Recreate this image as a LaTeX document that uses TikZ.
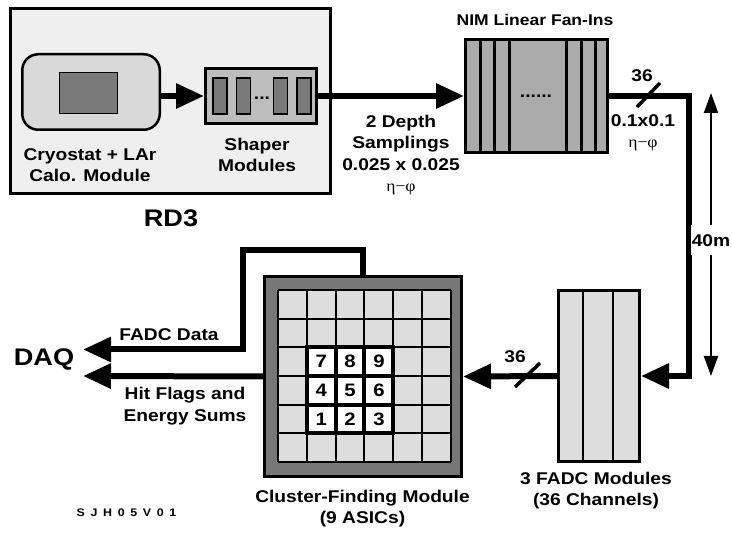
\documentclass[tikz,border=0pt]{standalone}
\usepackage{fontspec}
\setmainfont{Liberation Sans}[FakeStretch=1.13]
\newfontfamily\grkfont{Liberation Serif}[FakeStretch=1.1]
\usetikzlibrary{arrows.meta}
\definecolor{rdfill}{HTML}{EFEFEF}
\definecolor{cryofill}{HTML}{D9D9D9}
\definecolor{darkfill}{HTML}{7A7A7A}
\definecolor{shapfill}{HTML}{BDBDBD}
\definecolor{fanfill}{HTML}{ABABAB}
\definecolor{clusfill}{HTML}{777777}
\definecolor{cellfill}{HTML}{DDDDDD}
\tikzset{
  box/.style={draw,rectangle,line width=3pt,inner sep=0pt},
  lbl/.style={inner sep=0pt,anchor=base,align=center,font=\fontsize{17}{21.5}\selectfont\bfseries},
  biglbl/.style={lbl,font=\fontsize{24}{24}\selectfont\bfseries},
  wire/.style={line width=6pt},
  bigtip/.style={-{Triangle[length=28pt,width=24pt]}},
  slash/.style={line width=3.5pt},
  asic/.style={draw,fill=white,line width=4pt,inner sep=0pt,minimum width=28.83pt,minimum height=28.67pt,font=\fontsize{18}{18}\selectfont\bfseries}
}
\newcommand{\etaphi}{{\grkfont\mdseries\fontsize{16}{21.5}\selectfont η−φ}}
\begin{document}
\begin{tikzpicture}[x=1pt,y=-1pt]
  \useasboundingbox (0,0) rectangle (732,534);
  \node[box,fill=rdfill,minimum width=320pt,minimum height=185pt] (rd3) at (170.5,101) {};
  \node[box,line width=2.5pt,rounded corners=16pt,fill=cryofill,minimum width=137.5pt,minimum height=75.5pt] (cryo) at (91,92) {};
  \node[draw,line width=1pt,fill=darkfill,inner sep=0pt,minimum width=58pt,minimum height=41pt] (calo) at (88,93.5) {};
  \node[box,fill=shapfill,minimum width=111pt,minimum height=55pt] (shaper) at (261,96) {};
  \foreach \x/\n in {220/1,243.5/2,280.5/3,304/4}
    \node[draw,line width=1.5pt,fill=darkfill,inner sep=0pt,minimum width=14pt,minimum height=36pt] (shap\n) at (\x,96) {};
  \node[lbl] (shapdots) at (262,100) {...};
  \node[lbl] (cryolbl) at (90,182) {Cryostat + LAr\\Calo. Module};
  \node[lbl] (shaplbl) at (257,172) {Shaper\\Modules};
  \node[biglbl] (rd3lbl) at (171,227) {RD3};

  \node[box,fill=fanfill,minimum width=142pt,minimum height=113pt] (fanin) at (536.5,96) {};
  \foreach \x in {480,494,509,566,581,595}
    \draw[line width=3pt] (\x,39.5) -- (\x,152.5);
  \node[lbl] (fandots) at (536,98) {......};
  \node[lbl,font=\fontsize{15.5}{18}\selectfont\bfseries] (fanlbl) at (535,26) {NIM Linear Fan-Ins};
  \node[lbl] (depthlbl) at (401,192) {2 Depth\\Samplings\\0.025 x 0.025\\\etaphi};

  \node[box,fill=cellfill,minimum width=81pt,minimum height=171pt] (fadc) at (599,376) {};
  \foreach \x in {583,613}
    \draw[line width=2.5pt] (\x,291.5) -- (\x,460.5);
  \node[lbl] (fadclbl) at (596,506) {3 FADC Modules\\(36 Channels)};

  \node[box,fill=clusfill,minimum width=197pt,minimum height=200pt] (cluster) at (363,376.5) {};
  \fill[cellfill] (278,290) rectangle (451,462);
  \foreach \i in {0,...,6} {
    \draw[line width=2pt] ({278+\i*28.83},290) -- ({278+\i*28.83},462);
    \draw[line width=2pt] (278,{290+\i*28.67}) -- (451,{290+\i*28.67});
  }
  \foreach \n [count=\k from 0] in {7,8,9,4,5,6,1,2,3}
    \node[asic] (asic\n) at ({278+(mod(\k,3)+1.5)*28.83},{290+(int(\k/3)+2.5)*28.67}) {\n};
  \node[lbl] (cluslbl) at (362.5,524) {Cluster-Finding Module\\(9 ASICs)};

  \draw[wire,bigtip] (cryo.east |- shaper.west) -- (shaper.west);
  \draw[wire,bigtip] (shaper.east) -- (fanin.west);
  \coordinate (turn1) at (688.5,96);
  \coordinate (turn2) at (688.5,376);
  \draw[wire,bigtip] (fanin.east) -- (turn1) -- (turn2) -- (fadc.east);
  \draw[slash] (637,107) -- (660,83);
  \node[lbl] (nfan) at (642,82) {36};
  \node[lbl] (granlbl) at (643,148) {0.1x0.1\\\etaphi};

  \coordinate (dimtop) at (711,93);
  \coordinate (dimbot) at (711,376);
  \draw[line width=2pt,{Triangle[length=20pt,width=14pt]}-{Triangle[length=20pt,width=14pt]}] (dimtop) -- node[pos=0.52,lbl,anchor=center,fill=white,inner xsep=1pt,inner ysep=9pt] (dimlbl) {40m} (dimbot);

  \draw[wire,bigtip] (fadc.west) -- (cluster.east);
  \draw[slash] (515,387) -- (540,363);
  \node[lbl] (nfadc) at (515,363) {36};

  \coordinate (up1) at (363,250);
  \coordinate (up2) at (243,250);
  \coordinate (down1) at (243,349.5);
  \coordinate (daqfadc) at (83,349.5);
  \coordinate (daqhit) at (83,376);
  \draw[wire,bigtip] (cluster.north) -- (up1) -- (up2) -- (down1) -- (daqfadc);
  \draw[wire,bigtip] (cluster.west) -- (daqhit);
  \node[lbl] (fadcdata) at (169,341) {FADC Data};
  \node[lbl] (hitlbl) at (185,421.5) {Hit Flags and\\Energy Sums};
  \node[biglbl] (daq) at (44,366) {DAQ};
  \node[lbl,font=\fontsize{11}{11}\selectfont\bfseries\addfontfeature{LetterSpace=20}] (tag) at (126.5,517) {S J H 0 5 V 0 1};
\end{tikzpicture}
\end{document}
